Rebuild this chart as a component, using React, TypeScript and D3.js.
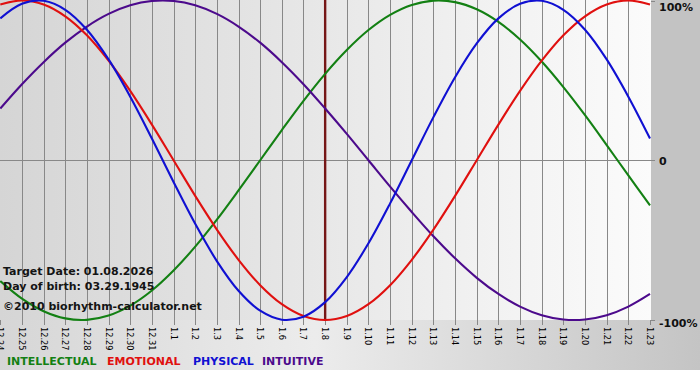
import React from "react";
import * as d3 from "d3";

const dayLabels = [
  "12.24", "12.25", "12.26", "12.27", "12.28", "12.29", "12.30", "12.31",
  "1.1", "1.2", "1.3", "1.4", "1.5", "1.6", "1.7", "1.8", "1.9", "1.10",
  "1.11", "1.12", "1.13", "1.14", "1.15", "1.16", "1.17", "1.18", "1.19",
  "1.20", "1.21", "1.22", "1.23",
];

const physical = [
  0.888, 0.979, 0.998, 0.942, 0.817, 0.631, 0.398, 0.136, -0.136, -0.398,
  -0.631, -0.817, -0.942, -0.998, -0.979, -0.888, -0.731, -0.52, -0.27, 0,
  0.27, 0.52, 0.731, 0.888, 0.979, 0.998, 0.942, 0.817, 0.631, 0.398, 0.136,
];

const emotional = [
  0.975, 1, 0.975, 0.901, 0.782, 0.623, 0.434, 0.223, 0, -0.223, -0.434,
  -0.623, -0.782, -0.901, -0.975, -1, -0.975, -0.901, -0.782, -0.623, -0.434,
  -0.223, 0, 0.223, 0.434, 0.623, 0.782, 0.901, 0.975, 1, 0.975,
];

const intellectual = [
  -0.756, -0.866, -0.945, -0.99, -0.999, -0.972, -0.91, -0.815, -0.69, -0.541,
  -0.372, -0.189, 0, 0.189, 0.372, 0.541, 0.69, 0.815, 0.91, 0.972, 0.999,
  0.99, 0.945, 0.866, 0.756, 0.618, 0.458, 0.282, 0.095, -0.095, -0.282,
];

const intuitive = [
  0.324, 0.476, 0.614, 0.736, 0.837, 0.916, 0.97, 0.997, 0.997, 0.97, 0.916,
  0.837, 0.736, 0.614, 0.476, 0.324, 0.165, 0, -0.165, -0.324, -0.476, -0.614,
  -0.736, -0.837, -0.916, -0.97, -0.997, -0.997, -0.97, -0.916, -0.837,
];

const markerIndex = 15;
const yTicks = [1, 0, -1];
const yTickLabels = ["100%", "0", "-100%"];

const legend = [
  { name: "INTELLECTUAL", color: "#138013" },
  { name: "EMOTIONAL", color: "#e0100f" },
  { name: "PHYSICAL", color: "#1010d2" },
  { name: "INTUITIVE", color: "#4c0a8c" },
];

const infoLines = [
  "Target Date: 01.08.2026",
  "Day of birth: 03.29.1945",
  "\u00A92010 biorhythm-calculator.net",
];

export default function App() {
  const W = 700;
  const H = 380;
  const plotLeft = 0;
  const plotRight = 651;
  const plotTop = 0;
  const plotBottom = 320;

  const x = d3
    .scaleLinear()
    .domain([0, dayLabels.length - 1])
    .range([0.3, 650]);
  const y = d3.scaleLinear().domain([-1, 1]).range([320, 0.5]);

  const line = d3
    .line<number>()
    .x((_, i) => x(i))
    .y((d) => y(d))
    .curve(d3.curveCatmullRom);

  const series = [
    { data: intellectual, color: legend[0].color },
    { data: intuitive, color: legend[3].color },
    { data: emotional, color: legend[1].color },
    { data: physical, color: legend[2].color },
  ];

  const font = "'DejaVu Sans', Verdana, sans-serif";

  return (
    <div style={{ position: "absolute", left: 0, top: 0 }}>
      <svg width={W} height={H} style={{ display: "block" }}>
        <defs>
          <linearGradient id="plotBg" x1="0" x2="1" y1="0" y2="0">
            <stop offset="0" stopColor="#d5d5d5" />
            <stop offset="1" stopColor="#fbfbfb" />
          </linearGradient>
          <linearGradient id="bottomBg" x1="0" x2="1" y1="0" y2="0">
            <stop offset="0" stopColor="#d6d6d6" />
            <stop offset="0.45" stopColor="#ececec" />
            <stop offset="1" stopColor="#c4c4c4" />
          </linearGradient>
          <clipPath id="plotClip">
            <rect x={plotLeft} y={plotTop} width={plotRight - plotLeft} height={plotBottom - plotTop + 2} />
          </clipPath>
        </defs>
        <rect x={0} y={0} width={W} height={H} fill="#ffffff" />
        <rect x={0} y={plotBottom} width={W} height={370 - plotBottom} fill="url(#bottomBg)" />
        <rect x={plotRight} y={0} width={W - plotRight} height={plotBottom + 1} fill="#c3c3c3" />
        <rect
          x={plotLeft}
          y={plotTop}
          width={plotRight - plotLeft}
          height={plotBottom - plotTop}
          fill="url(#plotBg)"
        />

        {dayLabels.map((_, i) =>
          i > 0 && i < dayLabels.length - 1 ? (
            <line
              key={"g" + i}
              x1={Math.round(x(i)) + 0.5}
              x2={Math.round(x(i)) + 0.5}
              y1={plotTop}
              y2={plotBottom}
              stroke="#888888"
              strokeWidth={1}
            />
          ) : null
        )}
        <line
          x1={plotLeft}
          x2={plotRight + 3}
          y1={Math.round(y(0)) + 0.5}
          y2={Math.round(y(0)) + 0.5}
          stroke="#888888"
          strokeWidth={1}
        />
        {yTicks.map((t, i) => (
          <line
            key={"rt" + i}
            x1={plotRight}
            x2={plotRight + 4}
            y1={Math.round(y(t)) + 0.5}
            y2={Math.round(y(t)) + 0.5}
            stroke="#888888"
          />
        ))}
        {dayLabels.map((_, i) => (
          <line
            key={"bt" + i}
            x1={Math.round(x(i)) + 0.5}
            x2={Math.round(x(i)) + 0.5}
            y1={plotBottom}
            y2={plotBottom + 5}
            stroke="#888888"
          />
        ))}
        <line
          x1={x(markerIndex)}
          x2={x(markerIndex)}
          y1={plotTop}
          y2={plotBottom}
          stroke="#761717"
          strokeWidth={2.4}
        />

        <g clipPath="url(#plotClip)">
          {series.map((s, i) => (
            <path
              key={"s" + i}
              d={line(s.data) || ""}
              fill="none"
              stroke={s.color}
              strokeWidth={2.1}
            />
          ))}
        </g>

        {infoLines.map((t, i) => (
          <text
            key={"info" + i}
            x={3}
            y={[275, 290, 310][i]}
            fontFamily={font}
            fontWeight="bold"
            fontSize={11}
            fill="#141414"
          >
            {t}
          </text>
        ))}

        {yTicks.map((t, i) => (
          <text
            key={"yl" + i}
            x={659}
            y={y(t) + [10.5, 5, 6.5][i]}
            fontFamily={font}
            fontWeight="bold"
            fontSize={11}
            fill="#111111"
          >
            {yTickLabels[i]}
          </text>
        ))}

        {dayLabels.map((d, i) => (
          <text
            key={"xl" + i}
            transform={`translate(${x(i) - 3},${plotBottom + 7}) rotate(90)`}
            fontFamily={font}
            fontSize={8.2}
            fill="#000000"
          >
            {d}
          </text>
        ))}

        {legend.map((l, i) => (
          <text
            key={"lg" + i}
            x={[7, 107, 193, 262][i]}
            y={365}
            fontFamily={font}
            fontWeight="bold"
            fontSize={11}
            fill={l.color}
          >
            {l.name}
          </text>
        ))}
      </svg>
    </div>
  );
}
